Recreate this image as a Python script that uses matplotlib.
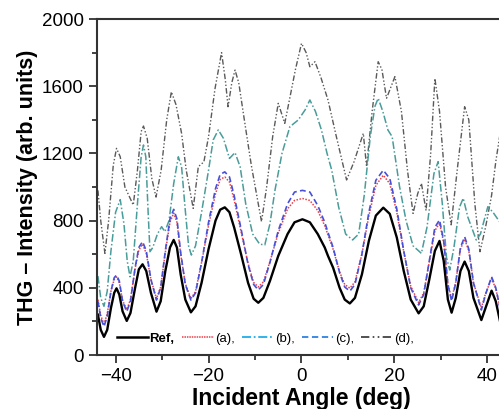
import matplotlib.pyplot as plt
from matplotlib.lines import Line2D

plt.rcParams['font.family'] = ['Liberation Sans', 'DejaVu Sans']

# values (angle in deg, THG intensity)
ref_x = [-43.8, -43.2, -42.5, -41.8, -41, -40.3, -39.8, -39.2, -38.5, -37.6, -36.8, -35.8, -35, -34.2,
         -33.4, -32.4, -31.2, -30.3, -29.3, -28.3, -27.5, -26.8, -26, -25, -23.8, -22.8, -21.5, -20,
         -18.5, -17.5, -16.5, -15.5, -14.5, -13, -11.5, -10.3, -9.3, -8.2, -6.8, -5, -3, -1.5, 0.2,
         1.8, 3.5, 5, 5.7, 6.8, 8.2, 9.3, 10.4, 11.5, 13, 14.5, 16, 17.6, 19, 20.5, 22, 23.5, 25.2,
         26.3, 27.5, 28.7, 29.7, 30.6, 31.5, 32.3, 33.2, 34.2, 35.1, 36, 37, 38.7, 39.6, 40.9, 41.8,
         42.8, 43.5]
ref_y = [240, 150, 108, 150, 280, 370, 397, 360, 260, 203, 250, 400, 510, 540,
         500, 370, 258, 320, 500, 640, 685, 640, 480, 330, 254, 290, 430, 630,
         800, 865, 879, 850, 760, 600, 430, 335, 311, 340, 440, 590, 720, 790, 808,
         790, 720, 640, 590, 520, 400, 330, 307, 340, 480, 680, 830, 877, 840, 700, 500, 330, 248,
         290, 450, 620, 679, 560, 330, 252, 340, 500, 556, 500, 340, 208, 280, 383, 320,
         190, 130]
a_y = [330, 235, 185, 245, 380, 450, 465, 430, 325, 270, 330, 515, 625, 660,
       605, 450, 335, 405, 610, 790, 845, 790, 600, 425, 335, 378, 550, 770,
       960, 1045, 1060, 1030, 925, 735, 545, 432, 405, 435, 555, 725, 870, 920, 932,
       920, 860, 770, 715, 630, 495, 420, 398, 435, 600, 830, 1010, 1070, 1020, 850, 615, 410, 312,
       370, 555, 740, 785, 670, 425, 335, 435, 630, 690, 620, 430, 280, 365, 455, 395,
       275, 210]
c_y = [320, 220, 169, 230, 380, 460, 476, 440, 320, 258, 320, 520, 640, 675,
       620, 450, 327, 400, 620, 810, 867, 810, 610, 420, 327, 370, 550, 790,
       990, 1075, 1090, 1060, 950, 750, 540, 420, 387, 420, 550, 740, 900, 970, 980,
       970, 890, 790, 730, 640, 490, 405, 380, 420, 600, 850, 1040, 1100, 1050, 870, 620, 400, 298,
       360, 560, 760, 804, 680, 420, 320, 430, 640, 704, 630, 430, 268, 360, 466, 400,
       268, 200]

b_x = [-43.8, -43.2, -42.5, -41.8, -41, -40, -39, -38.2, -37.5, -36.9, -36.2, -35.3, -34.5, -34,
       -33.5, -33, -32.6, -32, -31, -30.1, -29.4, -28.5, -27.5, -26.5, -25.8, -25, -24.3, -23.7,
       -22.8, -21.5, -20, -19, -17.9, -16.8, -15.5, -14.3, -13.2, -12, -10.5, -9, -7.9, -6.8, -5.7,
       -4.2, -2.5, -0.7, 0.8, 1.8, 3, 4.3, 5.5, 6.5, 8, 9.5, 11, 12.3, 13.5, 14.8, 15.8, 16.5, 17.5,
       18.6, 19.5, 21.1, 22.5, 24, 25.8, 27, 28.5, 29.4, 30.3, 31.2, 31.9, 32.8, 34, 34.8, 35.8,
       37.6, 38.5, 40.1, 41.2, 42.8]
b_y = [470, 340, 290, 380, 620, 850, 925, 780, 560, 466, 560, 900, 1180, 1250,
       1180, 850, 615, 640, 720, 764, 734, 800, 1020, 1180, 1120, 860, 650, 595,
       650, 850, 1100, 1280, 1340, 1290, 1170, 1205, 1120, 900, 720, 660, 655, 780, 982,
       1200, 1359, 1399, 1460, 1518, 1450, 1339, 1200, 1101, 880, 720, 685, 720, 950, 1300, 1480, 1528, 1450,
       1339, 1300, 1002, 800, 650, 605, 760, 1080, 1151, 900, 580, 506, 640, 880, 933, 820,
       685, 720, 883, 850, 786]

d_x = [-43.8, -43.2, -42.3, -41.5, -40.5, -39.8, -39, -38, -36.2, -35.3, -34.5, -34, -33.2, -32.2,
       -31.3, -30.2, -29, -28, -27, -25.8, -24.8, -23.3, -22.2, -21, -20, -18.6, -17.2, -16.4, -15.8,
       -15, -14.3, -13.5, -12.3, -10.8, -9.3, -8.6, -7.5, -6.2, -5, -3.6, -2.6, -1.3, 0, 1, 1.8, 2.9,
       4.2, 5.7, 7.5, 9.7, 11.3, 13.3, 14, 15.2, 16.5, 17.3, 18.3, 20.1, 21.5, 22.8, 24, 25, 25.8,
       26.8, 27.8, 28.7, 29.7, 31, 32.2, 33.5, 35.1, 36, 37.3, 38.4, 39.6, 40.9, 41.8, 42.8]
d_y = [980, 800, 605, 800, 1130, 1230, 1180, 1000, 893, 1100, 1330, 1363, 1290, 1050,
       940, 1100, 1400, 1567, 1490, 1319, 1100, 873, 1121, 1150, 1300, 1587, 1800, 1640, 1478,
       1620, 1696, 1620, 1400, 1130, 900, 794, 1000, 1300, 1498, 1379, 1518, 1700, 1855, 1800, 1716, 1746,
       1650, 1518, 1300, 1042, 1150, 1319, 1121, 1450, 1746, 1700, 1528, 1657, 1450, 1100, 843, 960, 1022,
       860, 1200, 1646, 1450, 1000, 775, 1100, 1478, 1400, 900, 615, 760, 950, 1150, 1330]

fig = plt.figure(figsize=(4.99, 4.09), dpi=100)
# the right part of the original axes is cut off, so the axes runs past the figure edge
ax = fig.add_axes([0.1944, 0.132, 0.8196, 0.8215])

ax.plot(d_x, d_y, color='#5a5a5a', lw=1.0, dashes=(4, 1.5, 1, 1.5, 1, 1.5))
ax.plot(b_x, b_y, color='#4a9c9a', lw=1.1, dashes=(5, 1.5, 1, 1.5))
ax.plot(ref_x, a_y, color='#e8404a', lw=1.1, dashes=(1, 1))
ax.plot(ref_x, c_y, color='#4650d8', lw=1.2, dashes=(3.5, 2))
ax.plot(ref_x, ref_y, color='black', lw=1.7, solid_joinstyle='round')

ax.set_xlim(-44, 44)
ax.set_ylim(0, 2000)
ax.set_xticks([-40, -20, 0, 20, 40])
ax.set_xticks([-30, -10, 10, 30], minor=True)
ax.set_yticks([0, 400, 800, 1200, 1600, 2000])
ax.set_yticks(range(200, 2000, 400), minor=True)
ax.tick_params(which='both', direction='out', labelsize=13.5, color='#333333', width=1.3)
ax.tick_params(which='major', length=6)
ax.tick_params(which='minor', length=3.5)
for s in ['left', 'bottom', 'top', 'right']:
    ax.spines[s].set_linewidth(1.5)
    ax.spines[s].set_color('#333333')

ax.set_xlabel('Incident Angle (deg)', fontsize=16.5, fontweight='bold', labelpad=1)
ax.set_ylabel('THG \u2013 Intensity (arb. units)', fontsize=15.5, fontweight='bold', labelpad=3)

handles = [Line2D([], [], color='black', lw=1.8),
           Line2D([], [], color='#e8404a', lw=1.1, dashes=(1, 0.6)),
           Line2D([], [], color='#22aee8', lw=1.3, dashes=(5, 1.5, 1, 1.5)),
           Line2D([], [], color='#2f7fe0', lw=1.3, dashes=(3.5, 2)),
           Line2D([], [], color='#333333', lw=1.2, dashes=(5, 2, 1, 2, 1, 2))]
labels = ['Ref,', '(a),', '(b),', '(c),', '(d),']
leg = ax.legend(handles, labels, loc='lower left', bbox_to_anchor=(0.035, 0.015), ncol=5,
                frameon=False, fontsize=9.5, handlelength=2.4, handletextpad=0.1,
                columnspacing=0.55, borderaxespad=0)
leg.get_texts()[0].set_fontweight('bold')

fig.savefig('out.png', dpi=100)
